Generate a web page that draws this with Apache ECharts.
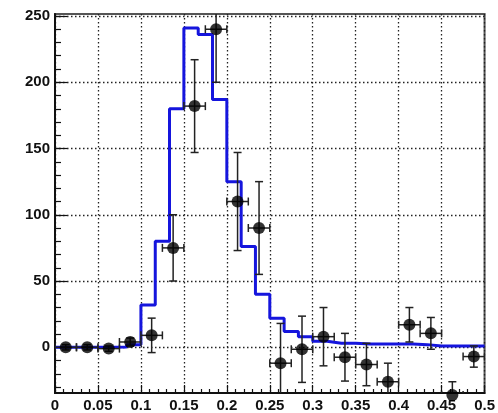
<!DOCTYPE html>
<html><head><meta charset="utf-8">
<script src="https://cdn.jsdelivr.net/npm/echarts@6/dist/echarts.min.js"></script>
<style>html,body{margin:0;padding:0;background:#fff}#c{width:498px;height:413px}</style>
</head><body><div id="c"></div>
<script>
// Histogram (MC) bin edges and contents
const binEdges = [0, 0.0167, 0.0333, 0.05, 0.0667, 0.0833, 0.1, 0.1167, 0.1333, 0.15, 0.1667, 0.1833, 0.2, 0.2167, 0.2333, 0.25, 0.2667, 0.2833, 0.3, 0.3167, 0.3333, 0.35, 0.3667, 0.3833, 0.4, 0.4167, 0.4333, 0.45, 0.4667, 0.4833, 0.5];
const histValues = [0, 0, 0, 0, 0.3, 2, 32, 80, 180, 241, 236, 187, 125, 76, 40, 22, 12, 8, 4.5, 3, 3, 2.5, 2.5, 2.5, 2.5, 2, 1, 1, 1, 1];
// Data points
const dataX = [0.0125, 0.0375, 0.0625, 0.0875, 0.1125, 0.1375, 0.1625, 0.1875, 0.2125, 0.2375, 0.2625, 0.2875, 0.3125, 0.3375, 0.3625, 0.3875, 0.4125, 0.4375, 0.4625, 0.4875];
const dataY = [0, 0, -1, 4, 9, 75, 182, 240, 110, 90, -12, -1.5, 8, -7.5, -13, -26, 17, 10.5, -36, -7];
const dataErrY = [2, 2, 2, 3, 13, 25, 35, 40, 37, 35, 30, 25, 22, 18, 16, 14, 13, 12, 10, 8];
const dataErrX = [0.0125, 0.0125, 0.0125, 0.0125, 0.0125, 0.0125, 0.0125, 0.0125, 0.0125, 0.0125, 0.0125, 0.0125, 0.0125, 0.0125, 0.0125, 0.0125, 0.0125, 0.0125, 0.0125, 0.0125];
// Ticks
const xTickLabels = ['0', '0.05', '0.1', '0.15', '0.2', '0.25', '0.3', '0.35', '0.4', '0.45', '0.5'];
const yTickValues = [0, 50, 100, 150, 200, 250];
const yTickLabels = ['0', '50', '100', '150', '200', '250'];
const yMinorValues = [-30, -20, -10, 0, 10, 20, 30, 40, 50, 60, 70, 80, 90, 100, 110, 120, 130, 140, 150, 160, 170, 180, 190, 200, 210, 220, 230, 240, 250];

const histData = histValues.map((v, i) => [binEdges[i], v]);
histData.push([binEdges[binEdges.length - 1], histValues[histValues.length - 1]]);
const pts = dataX.map((x, i) => [x, dataY[i], dataErrY[i], dataErrX[i]]);

const labelFont = {fontFamily: 'Liberation Sans, Arial, sans-serif', fontWeight: 'bold', fontSize: 15, color: '#111'};
const gridLine = {show: true, lineStyle: {color: '#222', type: [1.5, 2.5], width: 1.3}};

const chart = echarts.init(document.getElementById('c'), null, {renderer: 'canvas'});
chart.setOption({
  animation: false,
  backgroundColor: '#fff',
  grid: {left: 55, right: 7, top: 14, bottom: 18, show: true, borderColor: '#555', borderWidth: 2, backgroundColor: 'transparent'},
  xAxis: {
    type: 'value', min: 0, max: 0.5, interval: 0.05,
    axisLine: {show: true, onZero: false, lineStyle: {color: '#111', width: 2}},
    axisTick: {show: true, inside: true, length: 8, lineStyle: {color: '#111', width: 1.2}},
    minorTick: {show: true, splitNumber: 5, length: 4, lineStyle: {color: '#111', width: 1.2}},
    axisLabel: Object.assign({margin: 5, hideOverlap: false, alignMaxLabel: 'center', formatter: (v, i) => xTickLabels[i]}, labelFont),
    splitLine: gridLine
  },
  yAxis: [{
    type: 'value', min: -34.5, max: 251.5, position: 'left',
    axisLine: {show: true, onZero: false, lineStyle: {color: '#111', width: 2}},
    axisTick: {show: true, inside: true, length: 12, customValues: yTickValues, lineStyle: {color: '#111', width: 1.2}},
    axisLabel: Object.assign({margin: 5, customValues: yTickValues, formatter: (v) => yTickLabels[yTickValues.indexOf(v)]}, labelFont),
    splitLine: gridLine
  }, {
    type: 'value', min: -34.5, max: 251.5, position: 'left', offset: 0,
    axisLine: {show: false},
    axisTick: {show: true, inside: true, length: 6, customValues: yMinorValues, lineStyle: {color: '#111', width: 1.2}},
    axisLabel: {show: false},
    splitLine: {show: false}
  }],
  series: [{
    type: 'line', step: 'end', data: histData, yAxisIndex: 0,
    showSymbol: false, symbol: 'none',
    lineStyle: {color: '#1515dd', width: 3}, z: 3
  }, {
    type: 'custom', yAxisIndex: 0, data: pts, clip: true, z: 4,
    renderItem: function (params, api) {
      const x = api.value(0), y = api.value(1), ey = api.value(2), ex = api.value(3);
      const top = api.coord([x, y + ey]), bot = api.coord([x, y - ey]);
      const l = api.coord([x - ex, y]), r = api.coord([x + ex, y]);
      const cap = 4;
      const st = {stroke: '#222', lineWidth: 1.5};
      const ln = (x1, y1, x2, y2) => ({type: 'line', shape: {x1, y1, x2, y2}, style: st});
      return {type: 'group', children: [
        ln(top[0], top[1], bot[0], bot[1]),
        ln(top[0] - cap, top[1], top[0] + cap, top[1]),
        ln(bot[0] - cap, bot[1], bot[0] + cap, bot[1]),
        ln(l[0], l[1], r[0], r[1]),
        ln(l[0], l[1] - cap, l[0], l[1] + cap),
        ln(r[0], r[1] - cap, r[0], r[1] + cap)
      ]};
    }
  }, {
    type: 'scatter', yAxisIndex: 0, data: pts.map(p => [p[0], p[1]]),
    symbol: 'circle', symbolSize: 12, itemStyle: {color: '#000'}, clip: false, z: 5
  }]
});
</script></body></html>
